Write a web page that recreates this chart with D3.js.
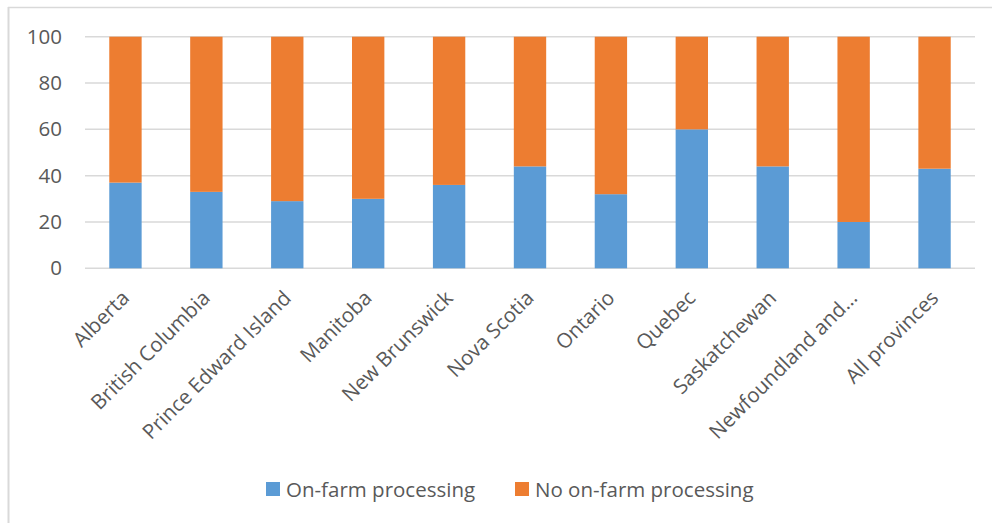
<!DOCTYPE html>
<html>
<head>
<meta charset="utf-8">
<script src="https://cdn.jsdelivr.net/npm/d3@7"></script>
<style>
  html, body { margin: 0; padding: 0; background: #fff; }
  svg { display: block; font-family: "Open Sans", sans-serif; }
</style>
</head>
<body>
<svg id="chart" width="992" height="523"></svg>
<script>
// Share of farms by province, with and without on-farm processing (%)
const provinces = [
  "Alberta", "British Columbia", "Prince Edward Island", "Manitoba",
  "New Brunswick", "Nova Scotia", "Ontario", "Quebec", "Saskatchewan",
  "Newfoundland and…", "All provinces"
];
const onFarm = [37, 33, 29, 30, 36, 44, 32, 60, 44, 20, 43];
const noOnFarm = [63, 67, 71, 70, 64, 56, 68, 40, 56, 80, 57];
const seriesNames = ["On-farm processing", "No on-farm processing"];
const seriesColors = ["#5b9bd5", "#ed7d31"];
const yTicks = [0, 20, 40, 60, 80, 100];

const svg = d3.select("#chart");
const textColor = "#595959";
const gridColor = "#d9d9d9";
const fontSize = 20.5;

// Chart frame (left and top edges visible)
svg.append("line").attr("x1", 8.5).attr("x2", 8.5).attr("y1", 7).attr("y2", 523)
  .attr("stroke", gridColor).attr("stroke-width", 2);
svg.append("line").attr("x1", 8).attr("x2", 992).attr("y1", 7.5).attr("y2", 7.5)
  .attr("stroke", gridColor).attr("stroke-width", 1.5);

const plot = { left: 85, right: 975, top: 36.7, bottom: 268.3 };

const x = d3.scaleBand()
  .domain(provinces)
  .range([plot.left, plot.right])
  .paddingInner(0.6)
  .paddingOuter(0.3);

const y = d3.scaleLinear()
  .domain([0, 100])
  .range([plot.bottom, plot.top]);

// Horizontal gridlines
svg.append("g").selectAll("line").data(yTicks).join("line")
  .attr("x1", plot.left).attr("x2", plot.right)
  .attr("y1", d => y(d)).attr("y2", d => y(d))
  .attr("stroke", gridColor).attr("stroke-width", 1.5);

// Y axis labels
const yAxis = d3.axisLeft(y).tickValues(yTicks).tickSize(0).tickPadding(0);
const yg = svg.append("g").attr("transform", `translate(62,0)`).call(yAxis);
yg.select(".domain").remove();
yg.selectAll("text").attr("fill", textColor).attr("font-size", fontSize)
  .attr("font-family", "Open Sans, sans-serif");

// Stacked bars
const rows = provinces.map((p, i) => ({ province: p, on: onFarm[i], off: noOnFarm[i] }));
const stack = d3.stack().keys(["on", "off"]);
const layers = stack(rows);

svg.append("g").selectAll("g").data(layers).join("g")
  .attr("fill", (d, i) => seriesColors[i])
  .selectAll("rect").data(d => d).join("rect")
  .attr("x", d => x(d.data.province))
  .attr("width", x.bandwidth())
  .attr("y", d => y(d[1]))
  .attr("height", d => y(d[0]) - y(d[1]));

// X axis category labels, rotated
const xAxis = d3.axisBottom(x).tickSize(0).tickPadding(0);
const xg = svg.append("g").attr("transform", `translate(0,${plot.bottom})`).call(xAxis);
xg.select(".domain").remove();
xg.selectAll("text")
  .attr("fill", textColor).attr("font-size", fontSize)
  .attr("font-family", "Open Sans, sans-serif")
  .attr("text-anchor", "end")
  .attr("dy", null)
  .attr("y", 0)
  .attr("transform", "translate(5,31) rotate(-45)");

// Legend
const legendX = [266, 515];
const lg = svg.append("g").selectAll("g").data(seriesNames).join("g")
  .attr("transform", (d, i) => `translate(${legendX[i]},482)`);
lg.append("rect").attr("width", 14).attr("height", 14)
  .attr("fill", (d, i) => seriesColors[i]);
lg.append("text").attr("x", 20).attr("y", 15)
  .attr("fill", textColor).attr("font-size", fontSize)
  .text(d => d);
</script>
</body>
</html>
